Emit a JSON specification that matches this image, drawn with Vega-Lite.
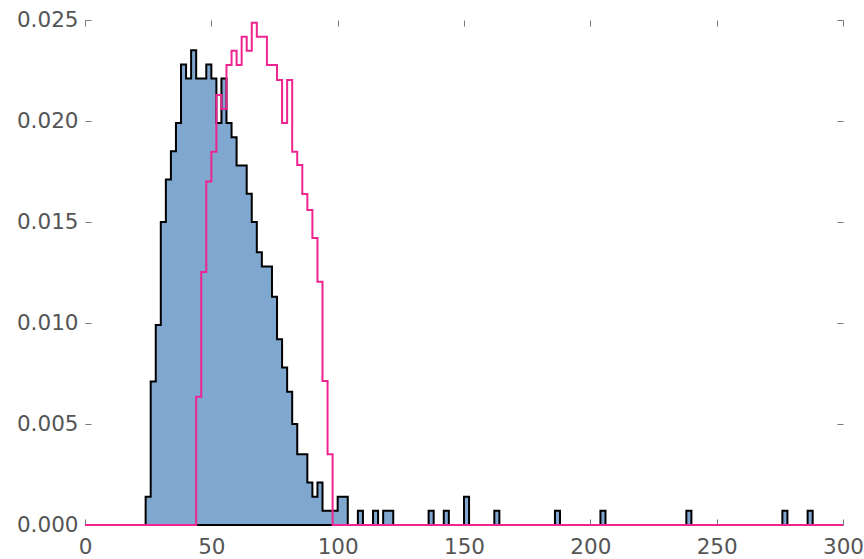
{
  "$schema": "https://vega.github.io/schema/vega-lite/v6.json",
  "width": 758,
  "height": 505,
  "autosize": "none",
  "padding": {"left": 85, "top": 20, "right": 21, "bottom": 34},
  "background": "white",
  "config": {
    "view": {"stroke": null},
    "axis": {
      "domain": false,
      "grid": false,
      "tickColor": "#777777",
      "tickSize": -6,
      "tickWidth": 1,
      "labelColor": "#555555",
      "labelFont": "DejaVu Sans",
      "labelFontSize": 21.5,
      "labelFlush": false,
      "labelOverlap": false,
      "title": null
    }
  },
  "datasets": {
    "blue": [
      {"x": 24, "density": 0.0014}, {"x": 26, "density": 0.0071}, {"x": 28, "density": 0.0099},
      {"x": 30, "density": 0.0150}, {"x": 32, "density": 0.0171}, {"x": 34, "density": 0.0185},
      {"x": 36, "density": 0.0199}, {"x": 38, "density": 0.0228}, {"x": 40, "density": 0.0221},
      {"x": 42, "density": 0.0235}, {"x": 44, "density": 0.0221}, {"x": 46, "density": 0.0221},
      {"x": 48, "density": 0.0228}, {"x": 50, "density": 0.0221}, {"x": 52, "density": 0.0199},
      {"x": 54, "density": 0.0221}, {"x": 56, "density": 0.0199}, {"x": 58, "density": 0.0192},
      {"x": 60, "density": 0.0178}, {"x": 62, "density": 0.0178}, {"x": 64, "density": 0.0164},
      {"x": 66, "density": 0.0150}, {"x": 68, "density": 0.0135}, {"x": 70, "density": 0.0128},
      {"x": 72, "density": 0.0128}, {"x": 74, "density": 0.0113}, {"x": 76, "density": 0.0092},
      {"x": 78, "density": 0.0078}, {"x": 80, "density": 0.0066}, {"x": 82, "density": 0.0050},
      {"x": 84, "density": 0.0035}, {"x": 86, "density": 0.0035}, {"x": 88, "density": 0.0021},
      {"x": 90, "density": 0.0014}, {"x": 92, "density": 0.0021}, {"x": 94, "density": 0.0007},
      {"x": 96, "density": 0.0007}, {"x": 98, "density": 0.0007}, {"x": 100, "density": 0.0014},
      {"x": 102, "density": 0.0014}, {"x": 104, "density": 0}, {"x": 108, "density": 0.0007},
      {"x": 110, "density": 0}, {"x": 114, "density": 0.0007}, {"x": 116, "density": 0},
      {"x": 118, "density": 0.0007}, {"x": 120, "density": 0.0007}, {"x": 122, "density": 0},
      {"x": 136, "density": 0.0007}, {"x": 138, "density": 0}, {"x": 142, "density": 0.0007},
      {"x": 144, "density": 0}, {"x": 150, "density": 0.0014}, {"x": 152, "density": 0},
      {"x": 162, "density": 0.0007}, {"x": 164, "density": 0}, {"x": 186, "density": 0.0007},
      {"x": 188, "density": 0}, {"x": 204, "density": 0.0007}, {"x": 206, "density": 0},
      {"x": 238, "density": 0.0007}, {"x": 240, "density": 0}, {"x": 276, "density": 0.0007},
      {"x": 278, "density": 0}, {"x": 286, "density": 0.0007}, {"x": 288, "density": 0}
    ],
    "pink": [
      {"x": 0, "density": 0},
      {"x": 44, "density": 0.00635}, {"x": 46, "density": 0.01252}, {"x": 48, "density": 0.0170},
      {"x": 50, "density": 0.01848}, {"x": 52, "density": 0.02129}, {"x": 54, "density": 0.02059},
      {"x": 56, "density": 0.02277}, {"x": 58, "density": 0.02348}, {"x": 60, "density": 0.02277},
      {"x": 62, "density": 0.02417}, {"x": 64, "density": 0.02348}, {"x": 66, "density": 0.02487},
      {"x": 68, "density": 0.02417}, {"x": 70, "density": 0.02417}, {"x": 72, "density": 0.02277},
      {"x": 74, "density": 0.02277}, {"x": 76, "density": 0.02203}, {"x": 78, "density": 0.0199},
      {"x": 80, "density": 0.02203}, {"x": 82, "density": 0.01848}, {"x": 84, "density": 0.01782},
      {"x": 86, "density": 0.01639}, {"x": 88, "density": 0.01559}, {"x": 90, "density": 0.01421},
      {"x": 92, "density": 0.01204}, {"x": 94, "density": 0.00713}, {"x": 96, "density": 0.0035},
      {"x": 98, "density": 0}, {"x": 300, "density": 0}
    ]
  },
  "layer": [
    {
      "data": {"name": "blue"},
      "mark": {"type": "area", "interpolate": "step-after", "fill": "#7fa7cf", "fillOpacity": 1, "stroke": "#000000", "strokeWidth": 2},
      "encoding": {
        "x": {"field": "x", "type": "quantitative", "scale": {"domain": [0, 300], "nice": false, "zero": false},
              "axis": {"orient": "bottom", "values": [0, 50, 100, 150, 200, 250, 300], "format": "d", "labelPadding": 17}},
        "y": {"field": "density", "type": "quantitative", "scale": {"domain": [0, 0.025], "nice": false},
              "axis": {"orient": "left", "values": [0, 0.005, 0.01, 0.015, 0.02, 0.025], "format": ".3f", "labelPadding": 13}}
      }
    },
    {
      "data": {"name": "pink"},
      "mark": {"type": "line", "interpolate": "step-after", "stroke": "#ee2490", "strokeWidth": 2},
      "encoding": {
        "x": {"field": "x", "type": "quantitative", "scale": {"domain": [0, 300], "nice": false, "zero": false},
              "axis": {"orient": "top", "values": [0, 50, 100, 150, 200, 250, 300], "labels": false}},
        "y": {"field": "density", "type": "quantitative", "scale": {"domain": [0, 0.025], "nice": false},
              "axis": {"orient": "right", "values": [0, 0.005, 0.01, 0.015, 0.02, 0.025], "labels": false}}
      }
    }
  ],
  "resolve": {"axis": {"x": "independent", "y": "independent"}}
}
